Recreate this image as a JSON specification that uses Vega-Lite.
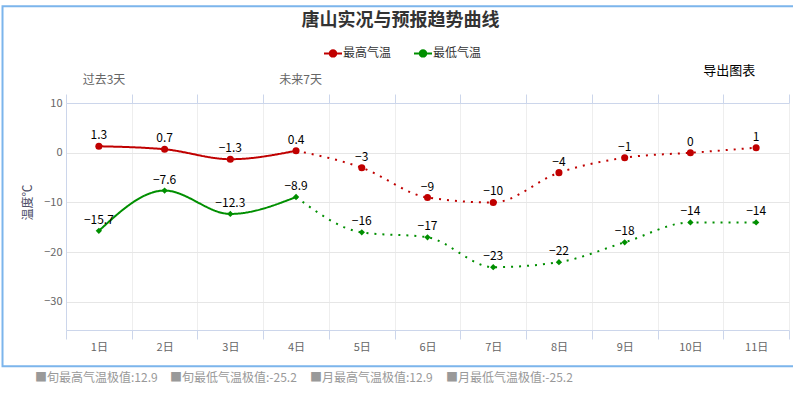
{
  "$schema": "https://vega.github.io/schema/vega-lite/v6.json",
  "width": 723,
  "height": 227,
  "autosize": "none",
  "padding": {"left": 66, "top": 103, "right": 4, "bottom": 63},
  "background": "white",
  "config": {"font": "Noto Sans CJK SC", "view": {"stroke": null}},
  "title": {"text": "唐山实况与预报趋势曲线", "fontSize": 18, "fontWeight": "bold", "color": "#333333", "anchor": "middle", "frame": "group", "dx": -27, "offset": -25},
  "datasets": {
    "one": [{}],
    "temps": [
      {"day": 1, "series": "最高气温", "t": 1.3, "seg": "实况"},
      {"day": 2, "series": "最高气温", "t": 0.7, "seg": "实况"},
      {"day": 3, "series": "最高气温", "t": -1.3, "seg": "实况"},
      {"day": 4, "series": "最高气温", "t": 0.4, "seg": "实况"},
      {"day": 4, "series": "最高气温", "t": 0.4, "seg": "预报"},
      {"day": 5, "series": "最高气温", "t": -3, "seg": "预报"},
      {"day": 6, "series": "最高气温", "t": -9, "seg": "预报"},
      {"day": 7, "series": "最高气温", "t": -10, "seg": "预报"},
      {"day": 8, "series": "最高气温", "t": -4, "seg": "预报"},
      {"day": 9, "series": "最高气温", "t": -1, "seg": "预报"},
      {"day": 10, "series": "最高气温", "t": 0, "seg": "预报"},
      {"day": 11, "series": "最高气温", "t": 1, "seg": "预报"},
      {"day": 1, "series": "最低气温", "t": -15.7, "seg": "实况"},
      {"day": 2, "series": "最低气温", "t": -7.6, "seg": "实况"},
      {"day": 3, "series": "最低气温", "t": -12.3, "seg": "实况"},
      {"day": 4, "series": "最低气温", "t": -8.9, "seg": "实况"},
      {"day": 4, "series": "最低气温", "t": -8.9, "seg": "预报"},
      {"day": 5, "series": "最低气温", "t": -16, "seg": "预报"},
      {"day": 6, "series": "最低气温", "t": -17, "seg": "预报"},
      {"day": 7, "series": "最低气温", "t": -23, "seg": "预报"},
      {"day": 8, "series": "最低气温", "t": -22, "seg": "预报"},
      {"day": 9, "series": "最低气温", "t": -18, "seg": "预报"},
      {"day": 10, "series": "最低气温", "t": -14, "seg": "预报"},
      {"day": 11, "series": "最低气温", "t": -14, "seg": "预报"}
    ]
  },
  "resolve": {"axis": {"x": "independent", "y": "independent"}},
  "layer": [
    {
      "data": {"name": "one"},
      "mark": {"type": "rect", "fill": "transparent", "stroke": "#7cb5ec", "strokeWidth": 2},
      "encoding": {
        "x": {"datum": -0.466, "type": "quantitative", "scale": {"domain": [0.5, 11.5], "nice": false, "zero": false}, "axis": null},
        "x2": {"datum": 12.67},
        "y": {"datum": 29.46, "type": "quantitative", "scale": {"domain": [-35.63, 10], "nice": false, "zero": false}, "axis": null},
        "y2": {"datum": -42.9}
      }
    },
    {
      "data": {"name": "temps"},
      "mark": {"type": "line", "interpolate": "monotone", "strokeWidth": 2},
      "encoding": {
        "x": {"field": "day", "type": "quantitative", "scale": {"domain": [0.5, 11.5], "nice": false, "zero": false},
          "axis": {"orient": "bottom", "title": null, "values": [0.5, 1, 1.5, 2, 2.5, 3, 3.5, 4, 4.5, 5, 5.5, 6, 6.5, 7, 7.5, 8, 8.5, 9, 9.5, 10, 10.5, 11, 11.5],
            "labelExpr": "datum.value % 1 === 0 ? datum.value + '日' : ''", "labelOverlap": false, "labelFlush": false,
            "labelColor": "#666666", "labelFontSize": 11, "labelPadding": 2,
            "tickSize": 9, "tickColor": "#ccd6eb", "tickOpacity": {"condition": {"test": "datum.value % 1 === 0", "value": 0}, "value": 1},
            "domainColor": "#ccd6eb", "grid": true, "gridColor": "#eeeeee",
            "gridOpacity": {"condition": {"test": "datum.value % 1 === 0", "value": 0}, "value": 1}}},
        "y": {"field": "t", "type": "quantitative", "scale": {"domain": [-35.63, 10], "nice": false, "zero": false},
          "axis": {"orient": "left", "values": [-30, -20, -10, 0, 10], "grid": true, "gridColor": "#e6e6e6", "ticks": false, "domain": true, "domainColor": "#ccd6eb",
            "labelColor": "#666666", "labelFontSize": 11, "labelPadding": 4,
            "title": "温度℃", "titleColor": "#4d4d66", "titleFontSize": 12, "titleFontWeight": "normal", "titleAngle": 270,
            "titleX": -39, "titleY": 99, "titleAlign": "center", "titleBaseline": "middle"}},
        "color": {"field": "series", "type": "nominal", "scale": {"domain": ["最高气温", "最低气温"], "range": ["#c00000", "#008f00"]},
          "legend": {"orient": "none", "legendX": 257, "legendY": -60, "direction": "horizontal", "title": null,
            "symbolType": "M-1,0L1,0M-0.36,0A0.36,0.36,0,1,1,0.36,0A0.36,0.36,0,1,1,-0.36,0Z",
            "symbolSize": 324, "symbolStrokeWidth": 2, "labelFontSize": 12, "labelColor": "#333333", "labelOffset": 0, "columnPadding": 18,
            "encode": {"symbols": {"update": {
              "fill": {"scale": "color", "field": "value"}, "stroke": {"scale": "color", "field": "value"}, "opacity": {"value": 1}}}}}},
        "strokeDash": {"field": "seg", "type": "nominal", "scale": {"domain": ["实况", "预报"], "range": [[1, 0], [2, 6]]}, "legend": null}
      }
    },
    {
      "data": {"name": "temps"},
      "transform": [{"filter": "datum.series == '最高气温' && (datum.seg == '实况' || datum.day > 4)"}],
      "mark": {"type": "point", "filled": true, "opacity": 1, "shape": "circle", "size": 50, "color": "#c00000"},
      "encoding": {
        "x": {"field": "day", "type": "quantitative", "scale": {"domain": [0.5, 11.5], "nice": false, "zero": false},
          "axis": {"orient": "top", "title": null, "labels": false, "grid": false, "values": [0.5, 1, 1.5, 2, 2.5, 3, 3.5, 4, 4.5, 5, 5.5, 6, 6.5, 7, 7.5, 8, 8.5, 9, 9.5, 10, 10.5, 11, 11.5],
            "tickSize": 9, "tickColor": "#ccd6eb", "tickOpacity": {"condition": {"test": "datum.value % 1 === 0", "value": 0}, "value": 1}, "domainColor": "#ccd6eb"}},
        "y": {"field": "t", "type": "quantitative", "scale": {"domain": [-35.63, 10], "nice": false, "zero": false}, "axis": null}
      }
    },
    {
      "data": {"name": "temps"},
      "transform": [{"filter": "datum.series == '最低气温' && (datum.seg == '实况' || datum.day > 4)"}],
      "mark": {"type": "point", "filled": true, "opacity": 1, "shape": "diamond", "size": 40, "color": "#008f00"},
      "encoding": {
        "x": {"field": "day", "type": "quantitative", "scale": {"domain": [0.5, 11.5], "nice": false, "zero": false}, "axis": null},
        "y": {"field": "t", "type": "quantitative", "scale": {"domain": [-35.63, 10], "nice": false, "zero": false}, "axis": null}
      }
    },
    {
      "data": {"name": "temps"},
      "transform": [{"filter": "datum.seg == '实况' || datum.day > 4"}],
      "mark": {"type": "text", "dy": -7, "fontSize": 12, "color": "#000000", "baseline": "alphabetic"},
      "encoding": {
        "x": {"field": "day", "type": "quantitative", "scale": {"domain": [0.5, 11.5], "nice": false, "zero": false}, "axis": null},
        "y": {"field": "t", "type": "quantitative", "scale": {"domain": [-35.63, 10], "nice": false, "zero": false}, "axis": null},
        "text": {"field": "t", "type": "quantitative", "format": ".1~f"}
      }
    },
    {
      "data": {"name": "one"},
      "mark": {"type": "text", "align": "left", "baseline": "middle", "fontSize": 12, "color": "#666666"},
      "encoding": {
        "x": {"datum": 0.754, "type": "quantitative", "scale": {"domain": [0.5, 11.5], "nice": false, "zero": false}, "axis": null},
        "y": {"datum": 14.58, "type": "quantitative", "scale": {"domain": [-35.63, 10], "nice": false, "zero": false}, "axis": null},
        "text": {"value": "过去3天"}
      }
    },
    {
      "data": {"name": "one"},
      "mark": {"type": "text", "align": "left", "baseline": "middle", "fontSize": 12, "color": "#666666"},
      "encoding": {
        "x": {"datum": 3.745, "type": "quantitative", "scale": {"domain": [0.5, 11.5], "nice": false, "zero": false}, "axis": null},
        "y": {"datum": 14.58, "type": "quantitative", "scale": {"domain": [-35.63, 10], "nice": false, "zero": false}, "axis": null},
        "text": {"value": "未来7天"}
      }
    },
    {
      "data": {"name": "one"},
      "mark": {"type": "text", "align": "left", "baseline": "middle", "fontSize": 13, "color": "#000000"},
      "encoding": {
        "x": {"datum": 10.196, "type": "quantitative", "scale": {"domain": [0.5, 11.5], "nice": false, "zero": false}, "axis": null},
        "y": {"datum": 16.49, "type": "quantitative", "scale": {"domain": [-35.63, 10], "nice": false, "zero": false}, "axis": null},
        "text": {"value": "导出图表"}
      }
    },
    {
      "data": {"name": "one"},
      "mark": {"type": "text", "align": "left", "baseline": "middle", "fontSize": 12, "color": "#999999"},
      "encoding": {
        "x": {"datum": 0.028, "type": "quantitative", "scale": {"domain": [0.5, 11.5], "nice": false, "zero": false}, "axis": null},
        "y": {"datum": -45.32, "type": "quantitative", "scale": {"domain": [-35.63, 10], "nice": false, "zero": false}, "axis": null},
        "text": {"value": "■旬最高气温极值:12.9"}
      }
    },
    {
      "data": {"name": "one"},
      "mark": {"type": "text", "align": "left", "baseline": "middle", "fontSize": 12, "color": "#999999"},
      "encoding": {
        "x": {"datum": 2.082, "type": "quantitative", "scale": {"domain": [0.5, 11.5], "nice": false, "zero": false}, "axis": null},
        "y": {"datum": -45.32, "type": "quantitative", "scale": {"domain": [-35.63, 10], "nice": false, "zero": false}, "axis": null},
        "text": {"value": "■旬最低气温极值:-25.2"}
      }
    },
    {
      "data": {"name": "one"},
      "mark": {"type": "text", "align": "left", "baseline": "middle", "fontSize": 12, "color": "#999999"},
      "encoding": {
        "x": {"datum": 4.212, "type": "quantitative", "scale": {"domain": [0.5, 11.5], "nice": false, "zero": false}, "axis": null},
        "y": {"datum": -45.32, "type": "quantitative", "scale": {"domain": [-35.63, 10], "nice": false, "zero": false}, "axis": null},
        "text": {"value": "■月最高气温极值:12.9"}
      }
    },
    {
      "data": {"name": "one"},
      "mark": {"type": "text", "align": "left", "baseline": "middle", "fontSize": 12, "color": "#999999"},
      "encoding": {
        "x": {"datum": 6.281, "type": "quantitative", "scale": {"domain": [0.5, 11.5], "nice": false, "zero": false}, "axis": null},
        "y": {"datum": -45.32, "type": "quantitative", "scale": {"domain": [-35.63, 10], "nice": false, "zero": false}, "axis": null},
        "text": {"value": "■月最低气温极值:-25.2"}
      }
    }
  ]
}
